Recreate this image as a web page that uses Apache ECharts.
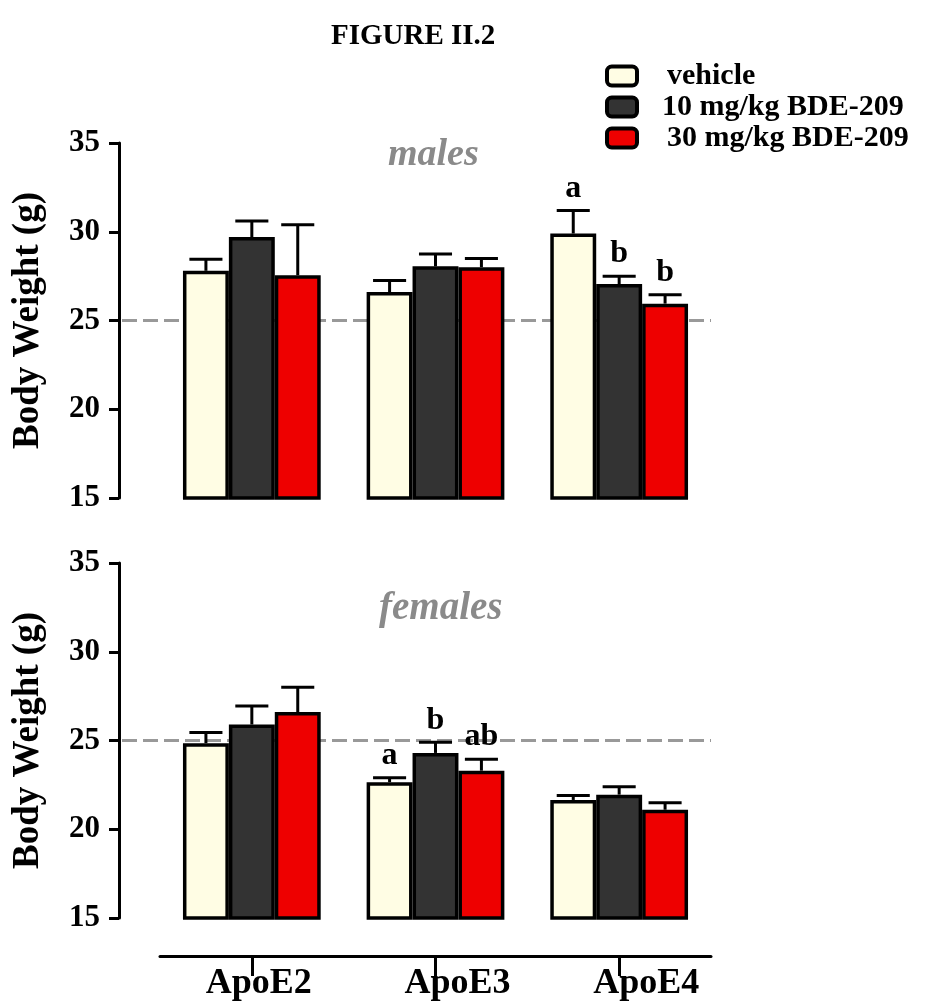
<!DOCTYPE html>
<html><head><meta charset="utf-8">
<script src="https://cdn.jsdelivr.net/npm/echarts@6/dist/echarts.min.js"></script>
<style>html,body{margin:0;padding:0;background:#fff}#c{width:940px;height:1003px}</style>
</head><body><div id="c"></div>
<script>
// ---------- data ----------
const categories = ['ApoE2', 'ApoE3', 'ApoE4'];
const doseNames = ['vehicle', '10 mg/kg BDE-209', '30 mg/kg BDE-209'];
const yTicks = [15, 20, 25, 30, 35];
const referenceWeight = 25;

const malesVehicle = [27.8, 26.6, 29.9];
const males10 = [29.7, 28.05, 27.05];
const males30 = [27.55, 28.0, 25.95];
const malesVehicleSem = [0.65, 0.65, 1.3];
const males10Sem = [0.9, 0.7, 0.45];
const males30Sem = [2.85, 0.5, 0.5];
const malesVehicleSig = ['', '', 'a'];
const males10Sig = ['', '', 'b'];
const males30Sig = ['', '', 'b'];

const femalesVehicle = [24.85, 22.65, 21.65];
const females10 = [25.9, 24.3, 21.95];
const females30 = [26.6, 23.3, 21.1];
const femalesVehicleSem = [0.6, 0.25, 0.25];
const females10Sem = [1.05, 0.6, 0.45];
const females30Sem = [1.4, 0.65, 0.4];
const femalesVehicleSig = ['', 'a', ''];
const females10Sig = ['', 'b', ''];
const females30Sig = ['', 'ab', ''];

// ---------- styling ----------
const SERIF = 'Liberation Serif';
const doseColors = ['#FFFDE4', '#333333', '#EE0000'];
const gridLeft = 160, gridRight = 229, gridHeight = 355;
const gridTops = [143, 563];
const yAxisOffset = 41;
const xLabelShift = [14, 44, 54];

const chart = echarts.init(document.getElementById('c'), null, {renderer: 'canvas'});

function yAxisFor(g) {
  return {
    type: 'value', gridIndex: g, min: yTicks[0], max: yTicks[yTicks.length - 1], interval: 5,
    offset: yAxisOffset,
    name: 'Body Weight (g)', nameLocation: 'middle', nameRotate: 90, nameGap: 72,
    nameTextStyle: {fontFamily: SERIF, fontWeight: 'bold', fontSize: 37, color: '#000'},
    axisLine: {show: true, lineStyle: {color: '#000', width: 3}},
    axisTick: {show: true, length: 10, lineStyle: {color: '#000', width: 3}},
    axisLabel: {fontFamily: SERIF, fontWeight: 'bold', fontSize: 31, color: '#000', margin: 19},
    splitLine: {show: false}
  };
}

function barSeries(g, k, values) {
  return {
    type: 'bar', name: doseNames[k], xAxisIndex: g, yAxisIndex: g, data: values,
    barGap: '0%', barCategoryGap: '25%', z: 10,
    itemStyle: {color: doseColors[k], borderColor: '#000', borderWidth: 3.5},
    emphasis: {disabled: true}
  };
}

function errorSeries(g, k, means, sems, sigs) {
  return {
    type: 'custom', xAxisIndex: g, yAxisIndex: g, z: 12, silent: true,
    data: means.map((m, i) => [i, m, m + sems[i]]),
    encode: {x: 0, y: [1, 2]},
    renderItem: function (params, api) {
      const i = api.value(0);
      const base = api.coord([i, api.value(1)]);
      const top = api.coord([i, api.value(2)]);
      const band = api.size([1, 0])[0];
      const bw = band * 0.75 / 3;
      const x = base[0] + (k - 1) * bw;
      const cap = bw * 0.36;
      const st = {stroke: '#000', lineWidth: 3};
      const children = [
        {type: 'line', shape: {x1: x, y1: base[1], x2: x, y2: top[1]}, style: st},
        {type: 'line', shape: {x1: x - cap, y1: top[1], x2: x + cap, y2: top[1]}, style: st}
      ];
      const s = sigs[params.dataIndex];
      if (s) {
        children.push({type: 'text', style: {text: s, x: x, y: top[1] - 6, align: 'center', verticalAlign: 'bottom',
          font: 'bold 32px "' + SERIF + '"', fill: '#000'}});
      }
      return {type: 'group', children: children};
    }
  };
}

function refLineSeries(g) {
  return {
    type: 'line', xAxisIndex: g, yAxisIndex: g, data: [], z: 1, silent: true,
    markLine: {
      silent: true, symbol: 'none', z: 1, animation: false,
      label: {show: false},
      lineStyle: {color: '#999999', width: 3, type: [15, 6]},
      data: [[{x: gridLeft - yAxisOffset + 3, yAxis: referenceWeight}, {x: 940 - gridRight, yAxis: referenceWeight}]]
    }
  };
}

const xRich = {};
xLabelShift.forEach((p, i) => {
  xRich['l' + i] = {fontFamily: SERIF, fontWeight: 'bold', fontSize: 36, color: '#000', padding: [0, 0, 0, p]};
});

const option = {
  animation: false,
  backgroundColor: '#fff',
  title: [
    {text: 'FIGURE II.2', left: 331, top: 22, padding: 0,
      textStyle: {fontFamily: SERIF, fontWeight: 'bold', fontSize: 29, color: '#000'}},
    {text: 'males', left: 388, top: 136, padding: 0,
      textStyle: {fontFamily: SERIF, fontWeight: 'bold', fontStyle: 'italic', fontSize: 38, color: '#8a8a8a'}},
    {text: 'females', left: 379, top: 589, padding: 0,
      textStyle: {fontFamily: SERIF, fontWeight: 'bold', fontStyle: 'italic', fontSize: 39, color: '#8a8a8a'}}
  ],
  legend: {
    orient: 'vertical', left: 605, top: 61, padding: 0, itemGap: 1,
    itemWidth: 30, itemHeight: 19, icon: 'roundRect', selectedMode: false,
    itemStyle: {borderColor: '#000', borderWidth: 4},
    textStyle: {fontFamily: SERIF, fontWeight: 'bold', fontSize: 30, color: '#000'},
    data: [
      {name: doseNames[0], textStyle: {padding: [0, 0, 0, 25]}},
      {name: doseNames[1], textStyle: {padding: [0, 0, 0, 20]}},
      {name: doseNames[2], textStyle: {padding: [0, 0, 0, 25]}}
    ]
  },
  grid: [
    {left: gridLeft, right: gridRight, top: gridTops[0], height: gridHeight},
    {left: gridLeft, right: gridRight, top: gridTops[1], height: gridHeight}
  ],
  xAxis: [
    {type: 'category', gridIndex: 0, data: categories, show: false},
    {type: 'category', gridIndex: 1, data: categories, offset: 38,
      axisLine: {show: true, lineStyle: {color: '#000', width: 3}},
      axisTick: {show: true, alignWithLabel: true, length: 20, lineStyle: {color: '#000', width: 3}},
      axisLabel: {margin: 10, formatter: (v, i) => '{l' + i + '|' + v + '}', rich: xRich},
      splitLine: {show: false}}
  ],
  yAxis: [yAxisFor(0), yAxisFor(1)],
  series: [
    refLineSeries(0), refLineSeries(1),
    barSeries(0, 0, malesVehicle), barSeries(0, 1, males10), barSeries(0, 2, males30),
    barSeries(1, 0, femalesVehicle), barSeries(1, 1, females10), barSeries(1, 2, females30),
    errorSeries(0, 0, malesVehicle, malesVehicleSem, malesVehicleSig),
    errorSeries(0, 1, males10, males10Sem, males10Sig),
    errorSeries(0, 2, males30, males30Sem, males30Sig),
    errorSeries(1, 0, femalesVehicle, femalesVehicleSem, femalesVehicleSig),
    errorSeries(1, 1, females10, females10Sem, females10Sig),
    errorSeries(1, 2, females30, females30Sem, females30Sig)
  ]
};
chart.setOption(option);
</script></body></html>
